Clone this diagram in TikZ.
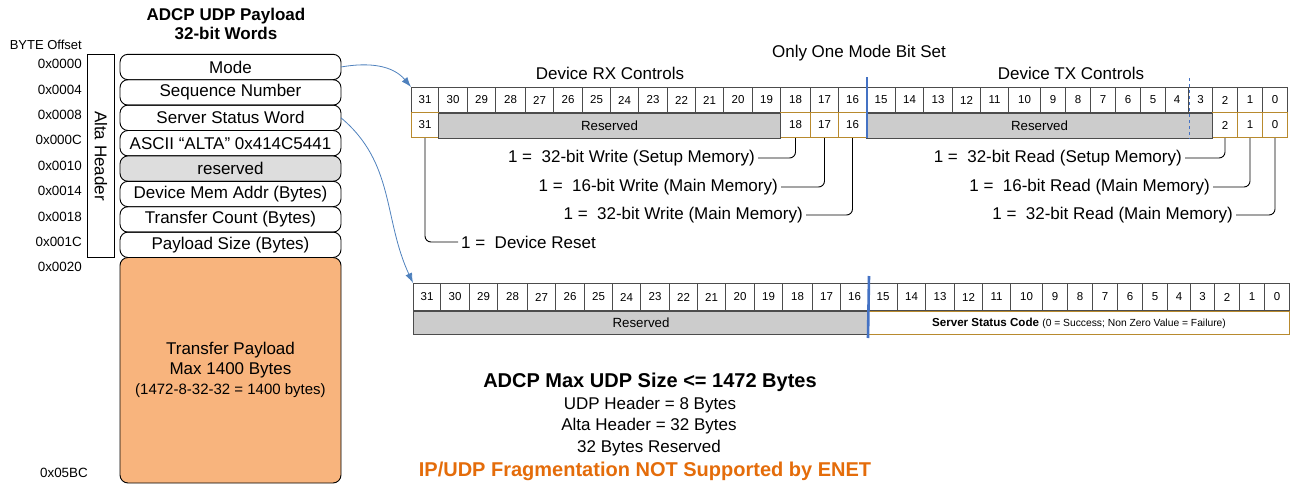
\documentclass[tikz,border=0pt]{standalone}
\usepackage{fontspec}
\setmainfont{Liberation Sans}
\usetikzlibrary{arrows.meta, positioning}

\definecolor{payload}{RGB}{248,180,125}
\definecolor{resgray}{RGB}{204,204,204}
\definecolor{boxgray}{RGB}{221,221,221}
\definecolor{gold}{RGB}{184,138,46}
\definecolor{linkblue}{RGB}{79,129,189}
\definecolor{barblue}{RGB}{68,114,196}
\definecolor{warnorange}{RGB}{228,108,10}

\newcommand\bitcols{31/411/438, 30/438/467, 29/467/495, 28/495/525, 27/525/553, 26/553/582,
  25/582/610, 24/610/638, 23/638/667, 22/667/695, 21/695/723, 20/723/752, 19/752/780,
  18/780/810, 17/810/838, 16/838/866, 15/866/895, 14/895/923, 13/923/952, 12/952/980,
  11/980/1008, 10/1008/1040, 9/1040/1065, 8/1065/1090, 7/1090/1115, 6/1115/1140,
  5/1140/1165, 4/1165/1188, 3/1188/1212, 2/1212/1237, 1/1237/1262, 0/1262/1287}

\begin{document}
\begin{tikzpicture}[
x=1pt, y=-1pt,
font=\fontsize{17}{20}\selectfont,
word/.style={rectangle, rounded corners=8pt, draw=black, line width=0.9pt, minimum width=221pt, minimum height=25.4pt, inner sep=0pt, outer sep=0pt},
offs/.style={font=\fontsize{13.4}{15}\selectfont, inner sep=0pt, anchor=east},
bitcell/.style={rectangle, draw=black!70, line width=1pt, minimum height=25pt, inner sep=0pt, anchor=north west, font=\fontsize{11.5}{13}\selectfont},
goldcell/.style={bitcell, draw=gold},
rescell/.style={bitcell, fill=resgray, font=\fontsize{13.3}{15}\selectfont},
note/.style={inner sep=0pt, inner xsep=3pt},
link/.style={-{Latex[length=3.5mm, width=2.5mm]}, linkblue, line width=0.8pt},
leg/.style={line width=0.9pt, rounded corners=6pt},
modebar/.style={barblue, line width=2.6pt}
]
\useasboundingbox (0,0) rectangle (1296,485);

% payload words
\node[align=center, font=\bfseries\fontsize{17}{19}\selectfont] (title) at (226,24) {ADCP UDP Payload\\32-bit Words};
\node[offs, font=\fontsize{13}{15}\selectfont] (byteoff) at (82,45) {BYTE Offset};
\foreach \o [count=\i from 0] in {0000,0004,0008,000C,0010,0014,0018,001C,0020}
  \node[offs] (off\i) at (82,{64+\i*25.4}) {0x\o};
\node[offs] (offend) at (88,473) {0x05BC};

\node[word] (mode) at (230.5,67) {Mode};
\node[word, below=0pt of mode] (seq) {Sequence Number};
\node[word, below=0pt of seq] (ssw) {Server Status Word};
\node[word, below=0pt of ssw] (ascii) {ASCII “ALTA” 0x414C5441};
\node[word, below=0pt of ascii, fill=boxgray] (resw) {reserved};
\node[word, below=0pt of resw] (addr) {Device Mem Addr (Bytes)};
\node[word, below=0pt of addr] (count) {Transfer Count (Bytes)};
\node[word, below=0pt of count] (size) {Payload Size (Bytes)};
\node[word, below=0pt of size, fill=payload, minimum height=225.5pt, align=center] (payload)
  {Transfer Payload\\Max 1400 Bytes\\{\fontsize{15}{18}\selectfont(1472-8-32-32 = 1400 bytes)}};
\node[draw=black, line width=0.8pt, rotate=-90, minimum width=203pt, minimum height=27pt, inner sep=0pt] (alta) at (101,156) {Alta Header};

% mode register
\node (onemode) at (859,53) {Only One Mode Bit Set};
\node (rxhead) at (610,73) {Device RX Controls};
\node (txhead) at (1071,73) {Device TX Controls};
\foreach \b/\xl/\xr in \bitcols
  \node[bitcell, minimum width={(\xr-\xl)*1pt}] (m\b) at (\xl,87) {\b};
\foreach \b/\xl/\xr in {31/411/438, 18/780/810, 17/810/838, 16/838/866, 2/1212/1237, 1/1237/1262, 0/1262/1287}
  \node[goldcell, minimum width={(\xr-\xl)*1pt}] (s\b) at (\xl,112) {\b};
\node[rescell, minimum width=342pt] (rxres) at (m30.south west) {Reserved};
\node[rescell, minimum width=346pt] (txres) at (m15.south west) {Reserved};
\draw[modebar] ([yshift=10pt]m16.north east) -- (s16.south east);
\draw[barblue, dashed, line width=0.7pt] ([yshift=9pt]m4.north east) -- (m4.east |- txres.south);

\node[note, anchor=west] (w31) at (458,242) {1 =\ \ Device Reset};
\node[note, anchor=east] (w18) at (758,158) {1 =\ \ 32-bit Write (Setup Memory)};
\node[note, anchor=east] (w17) at (781,187) {1 =\ \ 16-bit Write (Main Memory)};
\node[note, anchor=east] (w16) at (806,215) {1 =\ \ 32-bit Write (Main Memory)};
\node[note, anchor=east] (w2) at (1185,158) {1 =\ \ 32-bit Read (Setup Memory)};
\node[note, anchor=east] (w1) at (1213,187) {1 =\ \ 16-bit Read (Main Memory)};
\node[note, anchor=east] (w0) at (1236,215) {1 =\ \ 32-bit Read (Main Memory)};
\foreach \b in {31,18,17,16,2,1,0}
  \draw[leg] (s\b.south) |- (w\b);

% status register
\foreach \b/\xl/\xr in \bitcols
  \node[bitcell, minimum height=27pt, minimum width={(\xr-\xl)*1pt}, xshift=2pt] (b\b) at (\xl,283) {\b};
\node[rescell, minimum height=23pt, minimum width=455pt] (bres) at (b31.south west) {Reserved};
\node[goldcell, minimum height=23pt, minimum width=421pt] (code) at (b15.south west)
  {\textbf{\fontsize{11.6}{13}\selectfont Server Status Code} {\fontsize{10.3}{12}\selectfont(0 = Success; Non Zero Value = Failure)}};
\draw[modebar] ([yshift=7pt]b16.north east) -- ([yshift=-3pt]code.south west);

\draw[link] (mode.east) to[out=10, in=130] (m31.north west);
\draw[link] (ssw.east) to[out=-40, in=115] (b31.north west);

% size notes
\node[font=\bfseries\fontsize{20}{24}\selectfont] (maxsize) at (650,382) {ADCP Max UDP Size <= 1472 Bytes};
\node (udph) at (650,405) {UDP Header = 8 Bytes};
\node (altah) at (649,426) {Alta Header = 32 Bytes};
\node (resb) at (649,448) {32 Bytes Reserved};
\node[font=\bfseries\fontsize{20}{24}\selectfont, text=warnorange] (nofrag) at (645,471) {IP/UDP Fragmentation NOT Supported by ENET};
\end{tikzpicture}
\end{document}
